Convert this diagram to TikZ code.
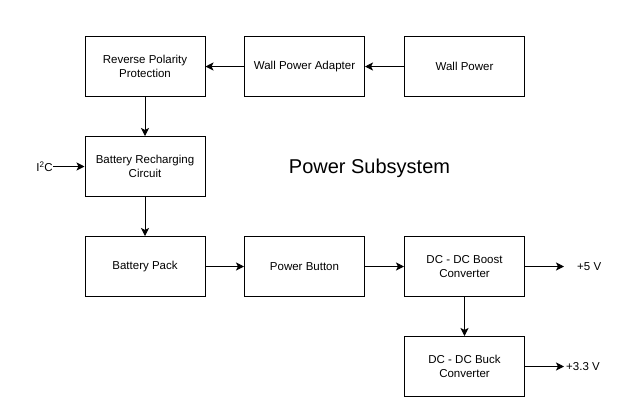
\documentclass[tikz,border=0pt]{standalone}
\usepackage{fontspec}
\setmainfont{Liberation Sans}
\usetikzlibrary{arrows.meta}
\tikzset{
  blk/.style={draw, line width=1pt, minimum width=120pt, minimum height=60pt, align=center, font=\fontsize{11.5}{13.5}\selectfont, inner sep=0pt},
  conn/.style={line width=1pt, -{Stealth[length=8pt,width=8pt,inset=2pt]}},
  lbl/.style={font=\fontsize{11.5}{13.5}\selectfont, inner sep=0pt}
}
\begin{document}
\begin{tikzpicture}[x=1pt,y=-1pt]
\useasboundingbox (0,0) rectangle (627,416);
\node[blk] (rpp) at (145,66.5) {Reverse Polarity\\Protection};
\node[blk] (wpa) at (304.5,66.5) {Wall Power Adapter};
\node[blk] (wp) at (464.5,66.5) {Wall Power};
\node[blk] (brc) at (145,166.5) {Battery Recharging\\Circuit};
\node[blk] (bp) at (145,266.5) {Battery Pack};
\node[blk] (pb) at (304.5,266.5) {Power Button};
\node[blk] (boost) at (464.5,266.5) {DC - DC Boost\\Converter};
\node[blk] (buck) at (464.5,366.5) {DC - DC Buck\\Converter};
\node[font=\fontsize{20}{24}\selectfont] (title) at (369.5,168.5) {Power Subsystem};
\node[lbl, anchor=east] (i2c) at (53,166.5) {I\textsuperscript{2}C};
\coordinate (v5) at (564,266.5);
\coordinate (v33) at (564,366.5);
\node[lbl, anchor=west] (l5) at (577,266.5) {+5 V};
\node[lbl, anchor=west] (l33) at (566,366.5) {+3.3 V};
\draw[conn] (wp) -- (wpa);
\draw[conn] (wpa) -- (rpp);
\draw[conn] (rpp) -- (brc);
\draw[conn] (i2c) -- (brc);
\draw[conn] (brc) -- (bp);
\draw[conn] (bp) -- (pb);
\draw[conn] (pb) -- (boost);
\draw[conn] (boost) -- (buck);
\draw[conn] (boost.east) -- (v5);
\draw[conn] (buck.east) -- (v33);
\end{tikzpicture}
\end{document}
